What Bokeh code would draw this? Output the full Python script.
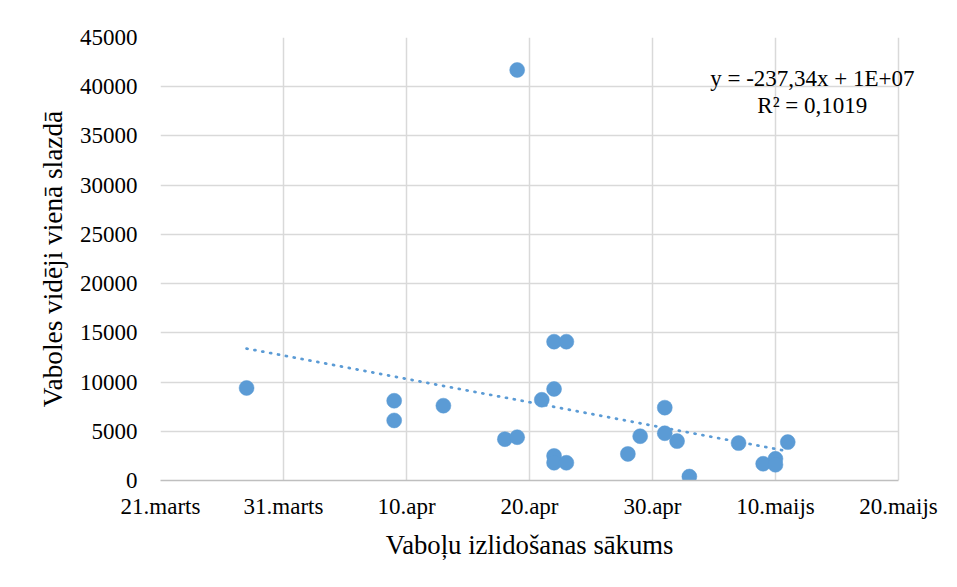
import numpy as np
import pandas as pd
from bokeh.plotting import figure
from bokeh.models import FixedTicker, Label, Range1d
from bokeh.embed import file_html
from bokeh.resources import INLINE

# ---- data ----
YEAR = "2018"
dates = ["03-28", "04-09", "04-09", "04-13", "04-18", "04-19", "04-19",
         "04-21", "04-22", "04-22", "04-22", "04-22", "04-23", "04-23",
         "04-28", "04-29", "05-01", "05-01", "05-02", "05-03", "05-07",
         "05-09", "05-10", "05-10", "05-11"]
beetles = [9400, 8100, 6100, 7600, 4200, 4400, 41700,
           8200, 14100, 9300, 2500, 1800, 14100, 1800,
           2700, 4500, 7400, 4800, 4000, 400, 3800,
           1700, 2200, 1600, 3900]
tick_dates = ["03-21", "03-31", "04-10", "04-20", "04-30", "05-10", "05-20"]
tick_labels = ["21.marts", "31.marts", "10.apr", "20.apr", "30.apr", "10.maijs", "20.maijs"]
y_ticks = [0, 5000, 10000, 15000, 20000, 25000, 30000, 35000, 40000, 45000]
eq_text = "y = -237,34x + 1E+07"
r2_text = "R\u00b2 = 0,1019"
x_title = "Vaboļu izlidošanas sākums"
y_title = "Vaboles vidēji vienā slazdā"

base = pd.Timestamp(f"{YEAR}-{tick_dates[0]}")
x = np.array([(pd.Timestamp(f"{YEAR}-{d}") - base).days for d in dates], dtype=float)
y = np.array(beetles, dtype=float)
xt = [(pd.Timestamp(f"{YEAR}-{d}") - base).days for d in tick_dates]

FONT = "Liberation Serif"
BLUE = "#5b9bd5"

# frame extends a little past the last tick so the equation text is not clipped
x_end = xt[-1] + 2.2
p = figure(width=949, height=579, output_backend="svg", toolbar_location=None,
           x_range=Range1d(xt[0], x_end), y_range=Range1d(y_ticks[0], y_ticks[-1]),
           min_border_left=160, min_border_right=24, min_border_top=37,
           min_border_bottom=99)
p.outline_line_color = None
p.background_fill_color = "white"
p.border_fill_color = "white"

# grid
for g in (p.xgrid, p.ygrid):
    g.grid_line_color = "#d9d9d9"
    g.grid_line_width = 1.5
p.ygrid.cross_bounds = (xt[0], xt[-1])
p.xaxis.ticker = FixedTicker(ticks=xt)
p.yaxis.ticker = FixedTicker(ticks=y_ticks)
p.xaxis.major_label_overrides = {t: l for t, l in zip(xt, tick_labels)}
p.xaxis.bounds = (xt[0], xt[-1])

for ax in (p.xaxis, p.yaxis):
    ax.major_tick_line_color = None
    ax.minor_tick_line_color = None
    ax.major_label_text_font = FONT
    ax.major_label_text_font_size = "23px"
    ax.major_label_text_color = "#000000"
    ax.axis_label_text_font = FONT
    ax.axis_label_text_font_style = "normal"
    ax.axis_label_text_color = "#000000"
p.xaxis.axis_label_text_font_size = "26.7px"
p.yaxis.axis_label_text_font_size = "27.3px"
p.yaxis.axis_line_color = None
p.xaxis.axis_line_color = "#bfbfbf"
p.xaxis.axis_line_width = 1.5
p.yaxis.major_label_standoff = 17
p.xaxis.major_label_standoff = 7
p.yaxis.axis_label_standoff = 9
p.xaxis.axis_label_standoff = 8
# trailing no-break spaces re-centre the title under the visible tick span
p.xaxis.axis_label = x_title + "\u00a0" * 4
p.yaxis.axis_label = y_title

# trendline (least squares fit of the data)
slope, intercept = np.polyfit(x, y, 1)
tx = np.array([x.min(), x.max()])
p.line(tx, slope * tx + intercept, line_color=BLUE, line_width=2.75,
       line_dash="1 7", line_cap="round")

# points
p.scatter(x, y, size=15, fill_color=BLUE, line_color=BLUE, line_width=0.5)

# equation labels
p.add_layout(Label(x=53.0, y=40800, text=eq_text, text_align="center",
                   text_baseline="middle", text_font=FONT, text_font_size="23px",
                   text_color="#000000"))
p.add_layout(Label(x=53.0, y=38050, text=r2_text, text_align="center",
                   text_baseline="middle", text_font=FONT, text_font_size="23px",
                   text_color="#000000"))

open("out.html", "w").write(file_html(p, INLINE))
